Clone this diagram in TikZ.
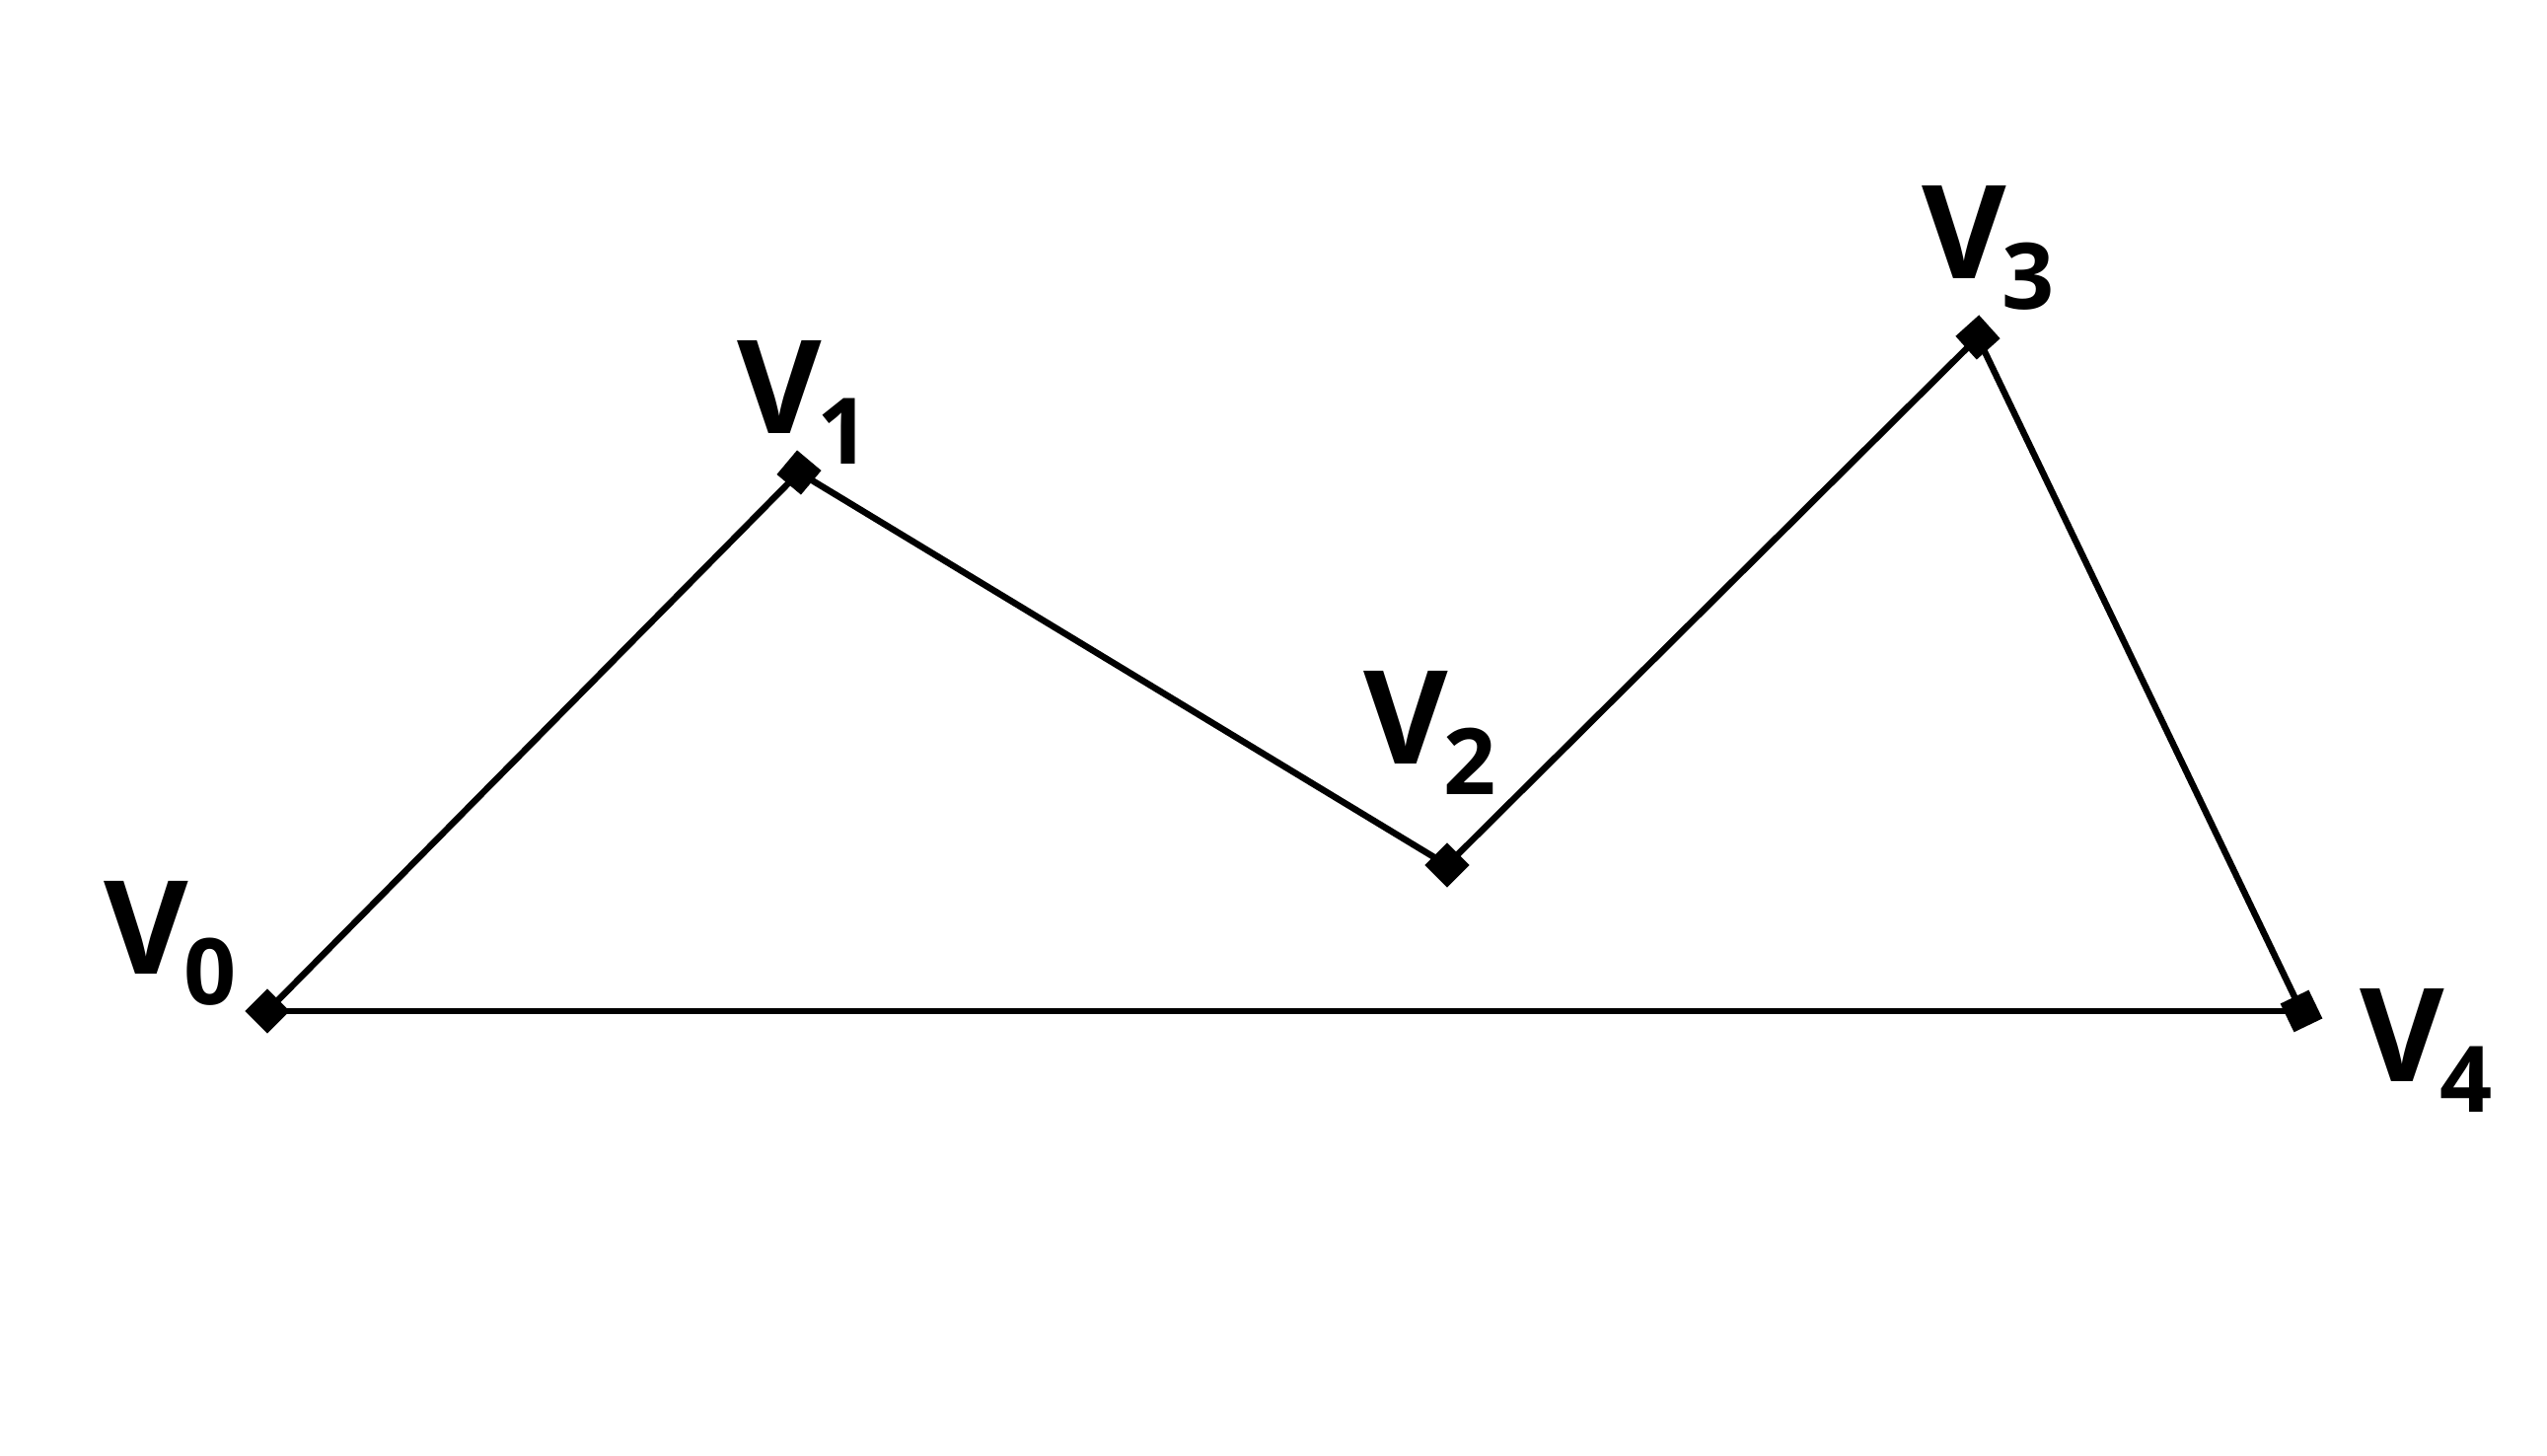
\documentclass[tikz,border=0pt]{standalone}
\usepackage{fontspec}
\setmainfont{Open Sans}
\begin{document}
\begin{tikzpicture}[
  edge/.style={line width=0.065cm, black},
  sq/.style={rectangle, fill=black, minimum size=0.32cm, inner sep=0pt, outer sep=0pt},
  lbl/.style={anchor=base west, inner sep=0pt, outer sep=0pt, font=\bfseries}
]
\useasboundingbox (0,0) rectangle (25.82,14.76);
\newcommand{\vlab}[1]{{\fontsize{37.5}{40}\selectfont V}\kern-0.04cm{\fontsize{26.5}{30}\selectfont\raisebox{-0.31cm}{#1}}}
\coordinate (v0) at (2.71,4.51);
\coordinate (v1) at (8.10,9.97);
\coordinate (v2) at (14.67,5.99);
\coordinate (v3) at (20.05,11.34);
\coordinate (v4) at (23.33,4.51);
\draw[edge] (v0) -- (v1);
\draw[edge] (v1) -- (v2);
\draw[edge] (v2) -- (v3);
\draw[edge] (v3) -- (v4);
\draw[edge] (v0) -- (v4);
\node[sq, rotate=45] (s0) at (v0) {};
\node[sq, rotate=-40] (s1) at (v1) {};
\node[sq, rotate=45] (s2) at (v2) {};
\node[sq, rotate=-48] (s3) at (v3) {};
\node[sq, rotate=25.7] (s4) at (v4) {};
\node[lbl] (l0) at (1.05,4.88) {\vlab{0}};
\node[lbl] (l1) at (7.47,10.36) {\vlab{1}};
\node[lbl] (l2) at (13.82,7.01) {\vlab{2}};
\node[lbl] (l3) at (19.48,11.93) {\vlab{3}};
\node[lbl] (l4) at (23.92,3.79) {\vlab{4}};
\end{tikzpicture}
\end{document}
